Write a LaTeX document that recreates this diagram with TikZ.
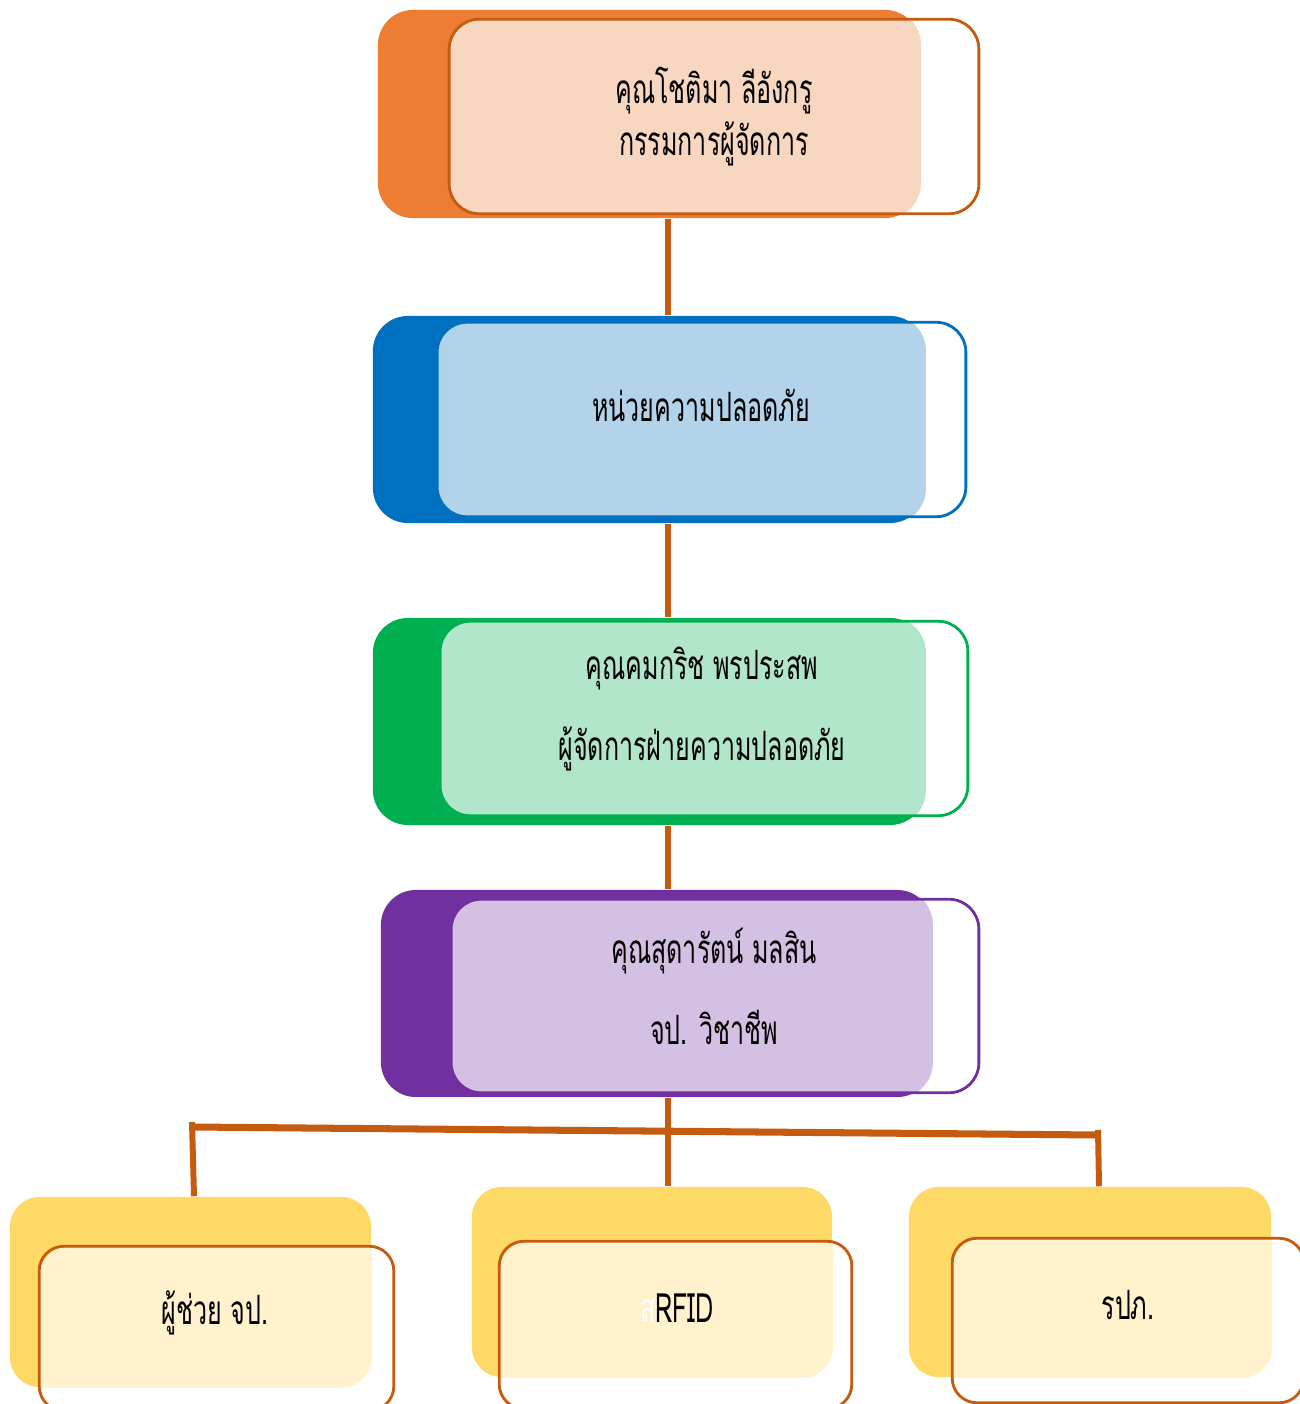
\documentclass[tikz,border=0pt]{standalone}
\usepackage{fontspec}
\newfontfamily\thaifont[Script=Thai,FakeStretch=0.62]{Loma}
\usetikzlibrary{positioning}

\definecolor{orangeBack}{HTML}{ED7D31}
\definecolor{orangeLight}{HTML}{F8D7C0}
\definecolor{blueBack}{HTML}{0070C0}
\definecolor{blueLight}{HTML}{B3D3EB}
\definecolor{greenBack}{HTML}{00B050}
\definecolor{greenLight}{HTML}{B2E6CA}
\definecolor{purpleBack}{HTML}{7030A0}
\definecolor{purpleLight}{HTML}{D4C0E2}
\definecolor{yellowBack}{HTML}{FFD966}
\definecolor{yellowLight}{HTML}{FFF2CC}
\definecolor{linkBrown}{HTML}{C55A11}

\tikzset{
  back/.style={rectangle, rounded corners=10pt, inner sep=0pt},
  smallback/.style={rectangle, rounded corners=8.5pt, inner sep=0pt},
  frame/.style={rectangle, inner sep=0pt},
  edge/.style={line width=0.8pt},
  link/.style={draw=linkBrown, line width=1.7pt},
  bar/.style={draw=linkBrown, line width=2pt},
  boxtext/.style={font=\thaifont\fontsize{11.5}{15}\selectfont, align=center, inner sep=0pt}
}

\begin{document}
\begin{tikzpicture}[x=0.01cm, y=-0.01cm]
  \useasboundingbox (0,0) rectangle (1299,1404);

  % back boxes
  \node[back, fill=orangeBack, minimum width=5.42cm, minimum height=2.08cm] (b1) at (649,114) {};
  \node[back, fill=blueBack, minimum width=5.52cm, minimum height=2.07cm] (b2) at (649,419.5) {};
  \node[back, fill=greenBack, minimum width=5.52cm, minimum height=2.07cm] (b3) at (649,721.5) {};
  \node[back, fill=purpleBack, minimum width=5.51cm, minimum height=2.07cm] (b4) at (656.5,993.5) {};
  \node[smallback, fill=yellowBack, minimum width=3.61cm, minimum height=1.90cm] (b5) at (190.5,1292) {};
  \node[smallback, fill=yellowBack, minimum width=3.60cm, minimum height=1.90cm] (b6) at (652,1282) {};
  \node[smallback, fill=yellowBack, minimum width=3.62cm, minimum height=1.90cm] (b7) at (1090,1282) {};

  % front frames
  \node[frame, minimum width=5.28cm, minimum height=1.93cm] (f1) at (714,116.5) {};
  \node[frame, minimum width=5.27cm, minimum height=1.93cm] (f2) at (701.5,419.5) {};
  \node[frame, minimum width=5.26cm, minimum height=1.93cm] (f3) at (704,718.5) {};
  \node[frame, minimum width=5.26cm, minimum height=1.92cm] (f4) at (715,996) {};
  \node[frame, minimum width=3.53cm, minimum height=1.63cm] (f5) at (216.5,1328.5) {};
  \node[frame, minimum width=3.51cm, minimum height=1.66cm] (f6) at (675.5,1325) {};
  \node[frame, minimum width=3.50cm, minimum height=1.63cm] (f7) at (1128,1320.5) {};

  \foreach \i/\c/\r in {1/orangeLight/10pt, 2/blueLight/10pt, 3/greenLight/10pt, 4/purpleLight/10pt,
                        5/yellowLight/8.5pt, 6/yellowLight/8.5pt, 7/yellowLight/8.5pt} {
    \begin{scope}
      \clip[rounded corners=\r] (b\i.south west) rectangle (b\i.north east);
      \fill[\c, rounded corners=8.5pt] (f\i.south west) rectangle (f\i.north east);
    \end{scope}
  }
  \foreach \i/\c/\r in {1/linkBrown/8.5pt, 2/blueBack/8.5pt, 3/greenBack/8.5pt, 4/purpleBack/8.5pt,
                        5/linkBrown/7pt, 6/linkBrown/7pt, 7/linkBrown/7pt}
    \draw[edge, draw=\c, rounded corners=\r] (f\i.south west) rectangle (f\i.north east);

  % texts
  \node[boxtext] (t1) at (714,116.5) {คุณโชติมา ลีอังกรู\\กรรมการผู้จัดการ};
  \node[boxtext] (t2) at (701,405) {หน่วยความปลอดภัย};
  \node[boxtext] (t3) at (702,709) {คุณคมกริช พรประสพ\\[8pt]ผู้จัดการฝ่ายความปลอดภัย};
  \node[boxtext] (t4) at (714,986.5) {คุณสุดารัตน์ มลสิน\\[8pt]จป. วิชาชีพ};
  \node[boxtext] (t5) at (215,1313) {ผู้ช่วย จป.};
  \node[boxtext] (t6) at (677,1308) {\textcolor{white}{ส}RFID};
  \node[boxtext] (t7) at (1128,1305) {รปภ.};

  % connectors
  \coordinate (spine) at (668,0);
  \coordinate (barL) at (192,1127);
  \coordinate (barR) at (1098,1135);
  \draw[link] (b1.south -| spine) -- (b2.north -| spine);
  \draw[link] (b2.south -| spine) -- (b3.north -| spine);
  \draw[link] (b3.south -| spine) -- (b4.north -| spine);
  \draw[link] (b4.south -| spine) -- (b6.north -| spine);
  \draw[bar] (barL) -- (barR);
  \draw[link] ([yshift=0.05cm]barL) -- ([xshift=0.035cm]b5.north);
  \draw[link] ([yshift=0.05cm]barR) -- ([xshift=0.09cm]b7.north);
\end{tikzpicture}
\end{document}
